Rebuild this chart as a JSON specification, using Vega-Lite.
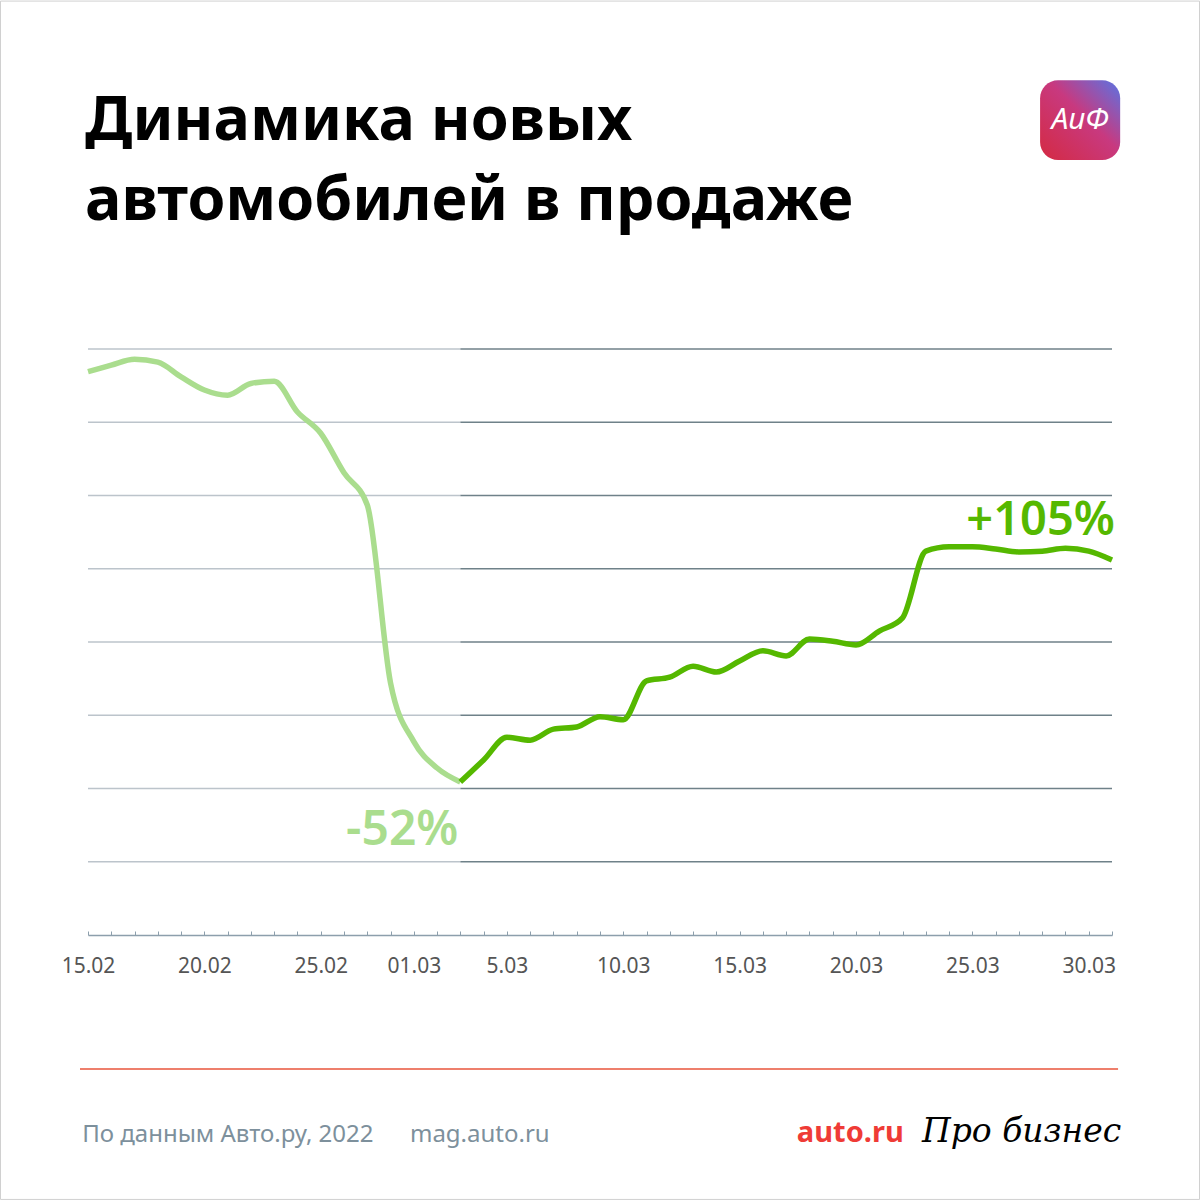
{
  "$schema": "https://vega.github.io/schema/vega-lite/v6.json",
  "width": 1024,
  "height": 586,
  "autosize": "none",
  "padding": {"left": 88, "top": 349, "right": 88, "bottom": 265},
  "background": "white",
  "config": {"view": {"stroke": null}},

  "datasets": {
    "sales": [
      {"date": "2022-02-15", "value": 7.69, "part": "fall"},
      {"date": "2022-02-16", "value": 7.78, "part": "fall"},
      {"date": "2022-02-17", "value": 7.86, "part": "fall"},
      {"date": "2022-02-18", "value": 7.82, "part": "fall"},
      {"date": "2022-02-19", "value": 7.62, "part": "fall"},
      {"date": "2022-02-20", "value": 7.44, "part": "fall"},
      {"date": "2022-02-21", "value": 7.37, "part": "fall"},
      {"date": "2022-02-22", "value": 7.53, "part": "fall"},
      {"date": "2022-02-23", "value": 7.56, "part": "fall"},
      {"date": "2022-02-24", "value": 7.14, "part": "fall"},
      {"date": "2022-02-25", "value": 6.85, "part": "fall"},
      {"date": "2022-02-26", "value": 6.31, "part": "fall"},
      {"date": "2022-02-27", "value": 5.87, "part": "fall"},
      {"date": "2022-02-28", "value": 3.44, "part": "fall"},
      {"date": "2022-03-01", "value": 2.64, "part": "fall"},
      {"date": "2022-03-02", "value": 2.28, "part": "fall"},
      {"date": "2022-03-03", "value": 2.09, "part": "fall"},
      {"date": "2022-03-03", "value": 2.09, "part": "rise"},
      {"date": "2022-03-04", "value": 2.39, "part": "rise"},
      {"date": "2022-03-05", "value": 2.70, "part": "rise"},
      {"date": "2022-03-06", "value": 2.66, "part": "rise"},
      {"date": "2022-03-07", "value": 2.81, "part": "rise"},
      {"date": "2022-03-08", "value": 2.84, "part": "rise"},
      {"date": "2022-03-09", "value": 2.98, "part": "rise"},
      {"date": "2022-03-10", "value": 2.94, "part": "rise"},
      {"date": "2022-03-11", "value": 3.47, "part": "rise"},
      {"date": "2022-03-12", "value": 3.52, "part": "rise"},
      {"date": "2022-03-13", "value": 3.67, "part": "rise"},
      {"date": "2022-03-14", "value": 3.59, "part": "rise"},
      {"date": "2022-03-15", "value": 3.74, "part": "rise"},
      {"date": "2022-03-16", "value": 3.88, "part": "rise"},
      {"date": "2022-03-17", "value": 3.81, "part": "rise"},
      {"date": "2022-03-18", "value": 4.04, "part": "rise"},
      {"date": "2022-03-19", "value": 4.01, "part": "rise"},
      {"date": "2022-03-20", "value": 3.96, "part": "rise"},
      {"date": "2022-03-21", "value": 4.15, "part": "rise"},
      {"date": "2022-03-22", "value": 4.33, "part": "rise"},
      {"date": "2022-03-23", "value": 5.24, "part": "rise"},
      {"date": "2022-03-24", "value": 5.30, "part": "rise"},
      {"date": "2022-03-25", "value": 5.30, "part": "rise"},
      {"date": "2022-03-26", "value": 5.27, "part": "rise"},
      {"date": "2022-03-27", "value": 5.23, "part": "rise"},
      {"date": "2022-03-28", "value": 5.24, "part": "rise"},
      {"date": "2022-03-29", "value": 5.28, "part": "rise"},
      {"date": "2022-03-30", "value": 5.24, "part": "rise"},
      {"date": "2022-03-31", "value": 5.12, "part": "rise"}
    ],
    "grid": [
      {"level": 1}, {"level": 2}, {"level": 3}, {"level": 4},
      {"level": 5}, {"level": 6}, {"level": 7}, {"level": 8}
    ],
    "notes": [
      {"date": "2022-03-03", "value": 2.09, "label": "-52%"},
      {"date": "2022-03-31", "value": 5.12, "label": "+105%"}
    ],
    "one": [{}]
  },

  "layer": [
    {
      "data": {"name": "grid"},
      "mark": {"type": "rule", "color": "#bcc4cb", "strokeWidth": 1.5},
      "encoding": {
        "x": {"datum": {"year": 2022, "month": 2, "date": 15, "utc": true}, "type": "temporal",
              "scale": {"type": "utc", "domain": [{"year": 2022, "month": 2, "date": 15, "utc": true}, {"year": 2022, "month": 3, "date": 31, "utc": true}], "nice": false}},
        "x2": {"datum": {"year": 2022, "month": 3, "date": 3, "utc": true}},
        "y": {"field": "level", "type": "quantitative", "axis": null,
              "scale": {"domain": [0, 8], "nice": false, "zero": false}}
      }
    },
    {
      "data": {"name": "grid"},
      "mark": {"type": "rule", "color": "#6f8189", "strokeWidth": 1.5},
      "encoding": {
        "x": {"datum": {"year": 2022, "month": 3, "date": 3, "utc": true}, "type": "temporal"},
        "x2": {"datum": {"year": 2022, "month": 3, "date": 31, "utc": true}},
        "y": {"field": "level", "type": "quantitative"}
      }
    },
    {
      "data": {"name": "sales"},
      "mark": {"type": "line", "interpolate": "monotone", "strokeWidth": 5.5, "strokeCap": "butt"},
      "encoding": {
        "x": {
          "field": "date", "type": "temporal", "title": null,
          "axis": {
            "tickCount": {"interval": "day", "step": 1},
            "grid": false,
            "domainColor": "#8d9fac",
            "domainWidth": 1.5,
            "tickColor": "#8d9fac",
            "tickSize": -4,
            "tickWidth": 1,
            "labelPadding": 24,
            "labelOverlap": false,
            "labelFlush": false,
            "labelFont": "Noto Sans",
            "labelFontSize": 21,
            "labelColor": "#555555",
            "labelExpr": "indexof(['15.02','20.02','25.02','01.03','05.03','10.03','15.03','20.03','25.03','30.03'], utcFormat(datum.value, '%d.%m')) >= 0 ? (utcFormat(datum.value, '%d.%m') == '05.03' ? '5.03' : utcFormat(datum.value, '%d.%m')) : ''"
          }
        },
        "y": {"field": "value", "type": "quantitative"},
        "color": {"field": "part", "type": "nominal", "legend": null,
                  "scale": {"domain": ["fall", "rise"], "range": ["#aadd8e", "#55b800"]}}
      }
    },
    {
      "data": {"name": "notes"},
      "transform": [{"filter": "datum.label == '-52%'"}],
      "mark": {"type": "text", "align": "right", "baseline": "alphabetic", "dx": -2, "dy": 63,
               "font": "Noto Sans", "fontSize": 48, "fontWeight": 600, "color": "#aadd8e"},
      "encoding": {
        "x": {"field": "date", "type": "temporal"},
        "y": {"field": "value", "type": "quantitative"},
        "text": {"field": "label"}
      }
    },
    {
      "data": {"name": "notes"},
      "transform": [{"filter": "datum.label == '+105%'"}],
      "mark": {"type": "text", "align": "right", "baseline": "alphabetic", "dx": 3, "dy": -25,
               "font": "Noto Sans", "fontSize": 47, "fontWeight": 600, "color": "#55b800"},
      "encoding": {
        "x": {"field": "date", "type": "temporal"},
        "y": {"field": "value", "type": "quantitative"},
        "text": {"field": "label"}
      }
    },
    {
      "data": {"name": "one"},
      "mark": {"type": "text", "text": ["Динамика новых", "автомобилей в продаже"],
               "align": "left", "baseline": "alphabetic", "lineHeight": 80,
               "font": "Noto Sans", "fontSize": 61, "fontWeight": "bold", "color": "black"},
      "encoding": {
        "x": {"datum": {"year": 2022, "month": 2, "date": 14, "hours": 21, "utc": true}, "type": "temporal"},
        "y": {"datum": 10.85, "type": "quantitative"}
      }
    },
    {
      "data": {"name": "one"},
      "mark": {"type": "rule", "color": "#e9553b", "strokeWidth": 1.5},
      "encoding": {
        "x": {"datum": {"year": 2022, "month": 2, "date": 14, "hours": 15, "minutes": 45, "utc": true}, "type": "temporal"},
        "x2": {"datum": {"year": 2022, "month": 3, "date": 31, "hours": 6, "minutes": 15, "utc": true}},
        "y": {"datum": -1.83, "type": "quantitative"}
      }
    },
    {
      "data": {"name": "one"},
      "mark": {"type": "text", "text": "По данным Авто.ру, 2022", "align": "left", "baseline": "alphabetic",
               "font": "Noto Sans", "fontSize": 24, "color": "#7d909c"},
      "encoding": {
        "x": {"datum": {"year": 2022, "month": 2, "date": 14, "hours": 18, "utc": true}, "type": "temporal"},
        "y": {"datum": -2.83, "type": "quantitative"}
      }
    },
    {
      "data": {"name": "one"},
      "mark": {"type": "text", "text": "mag.auto.ru", "align": "left", "baseline": "alphabetic",
               "font": "Noto Sans", "fontSize": 24, "color": "#7d909c"},
      "encoding": {
        "x": {"datum": {"year": 2022, "month": 2, "date": 28, "hours": 20, "utc": true}, "type": "temporal"},
        "y": {"datum": -2.83, "type": "quantitative"}
      }
    },
    {
      "data": {"name": "one"},
      "mark": {"type": "text", "text": "auto.ru", "align": "left", "baseline": "alphabetic",
               "font": "Noto Sans", "fontSize": 29, "fontWeight": "bold", "color": "#ef3b36"},
      "encoding": {
        "x": {"datum": {"year": 2022, "month": 3, "date": 17, "hours": 11, "utc": true}, "type": "temporal"},
        "y": {"datum": -2.83, "type": "quantitative"}
      }
    },
    {
      "data": {"name": "one"},
      "mark": {"type": "text", "text": "Про бизнес", "align": "left", "baseline": "alphabetic",
               "font": "DejaVu Serif", "fontStyle": "italic", "fontSize": 33, "color": "black"},
      "encoding": {
        "x": {"datum": {"year": 2022, "month": 3, "date": 22, "hours": 20, "utc": true}, "type": "temporal"},
        "y": {"datum": -2.83, "type": "quantitative"}
      }
    },
    {
      "data": {"name": "one"},
      "mark": {"type": "rect", "cornerRadius": 18,
               "fill": {"gradient": "linear", "x1": 0, "y1": 1, "x2": 1, "y2": 0,
                        "stops": [{"offset": 0, "color": "#d42a42"}, {"offset": 0.55, "color": "#c8397f"}, {"offset": 1, "color": "#5a74e4"}]}},
      "encoding": {
        "x": {"datum": {"year": 2022, "month": 3, "date": 27, "hours": 21, "minutes": 50, "utc": true}, "type": "temporal"},
        "x2": {"datum": {"year": 2022, "month": 3, "date": 31, "hours": 8, "minutes": 25, "utc": true}},
        "y": {"datum": 11.67, "type": "quantitative"},
        "y2": {"datum": 10.58}
      }
    },
    {
      "data": {"name": "one"},
      "mark": {"type": "text", "text": "АиФ", "align": "center", "baseline": "middle",
               "font": "Noto Sans", "fontSize": 30, "fontStyle": "italic", "color": "white"},
      "encoding": {
        "x": {"datum": {"year": 2022, "month": 3, "date": 29, "hours": 15, "minutes": 10, "utc": true}, "type": "temporal"},
        "y": {"datum": 11.13, "type": "quantitative"}
      }
    },
    {
      "data": {"name": "one"},
      "mark": {"type": "rect", "filled": false, "stroke": "#d0d0d0", "strokeWidth": 1},
      "encoding": {
        "x": {"datum": {"year": 2022, "month": 2, "date": 11, "hours": 5, "minutes": 45, "utc": true}, "type": "temporal"},
        "x2": {"datum": {"year": 2022, "month": 4, "date": 3, "hours": 18, "minutes": 15, "utc": true}},
        "y": {"datum": 12.75, "type": "quantitative"},
        "y2": {"datum": -3.61}
      }
    }
  ]
}
